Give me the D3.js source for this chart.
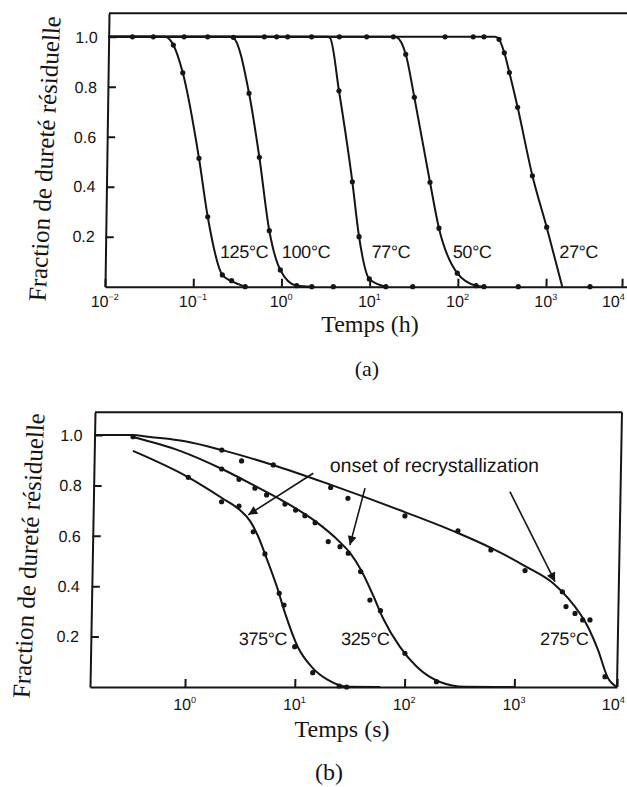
<!DOCTYPE html>
<html><head><meta charset="utf-8">
<script src="https://cdn.jsdelivr.net/npm/d3@7/dist/d3.min.js"></script>
<style>
body{margin:0;background:#fff;}
svg{display:block;background:#fff;}
</style></head><body>
<svg id="chart" width="627" height="787"></svg>
<script>
// ---------------- DATA : panel (a) – time in hours ----------------
const yTicksA = [0.2, 0.4, 0.6, 0.8, 1.0];
const xExpA = [-2, -1, 0, 1, 2, 3, 4];
const tempsA = ["125°C", "100°C", "77°C", "50°C", "27°C"];
const curveA125 = [[0.01,1],[0.0436,1],[0.0543,0.967],[0.0702,0.856],[0.1107,0.514],[0.1422,0.28],[0.213,0.047],[0.272,0.022],[0.389,0]];
const curveA100 = [[0.01,1],[0.235,1],[0.2595,0.996],[0.399,0.774],[0.535,0.518],[0.714,0.224],[0.966,0.067],[1.49,0.004],[2.2,0]];
const curveA77  = [[0.01,1],[3.0,1],[3.24,0.995],[4.17,0.784],[6.12,0.42],[7.45,0.2],[9.89,0.031],[15.3,0]];
const curveA50  = [[0.01,1],[17,1],[18.4,0.998],[23.5,0.93],[29.9,0.758],[46.5,0.418],[59.8,0.234],[98.2,0.054],[161,0.004],[200,0]];
const curveA27  = [[0.01,1],[240,1],[267,0.99],[308,0.936],[354,0.857],[445,0.718],[672,0.444],[995,0.238],[1637,0]];
const ptsA125 = [[0.0186,1],[0.0321,1],[0.0543,0.967],[0.0702,0.856],[0.1107,0.514],[0.1422,0.28],[0.213,0.047],[0.272,0.024],[0.389,0]];
const ptsA100 = [[0.0716,1],[0.1325,1],[0.2595,0.998],[0.399,0.774],[0.535,0.518],[0.714,0.224],[0.966,0.067],[1.49,0.004],[2.21,0],[3.88,0]];
const ptsA77  = [[0.582,1],[0.803,1],[1.07,1],[2.0,1],[4.17,0.784],[6.12,0.42],[7.45,0.2],[9.89,0.031],[15.3,0],[30.8,0]];
const ptsA50  = [[4.13,1],[8.42,1],[16.9,1],[23.5,0.93],[29.9,0.758],[46.5,0.418],[59.8,0.234],[98.2,0.054],[161,0.004],[198,0],[485,0]];
const ptsA27  = [[65.2,1],[136,1],[180,1],[267,0.99],[308,0.936],[354,0.857],[445,0.718],[672,0.444],[995,0.238],[3796,0]];
const labelAtA = [[0.199,0.115],[1.0,0.115],[10.4,0.115],[86.7,0.115],[1479,0.115]];

// ---------------- DATA : panel (b) – time in seconds ----------------
const yTicksB = [0.2, 0.4, 0.6, 0.8, 1.0];
const xExpB = [0, 1, 2, 3, 4];
const tempsB = ["375°C", "325°C", "275°C"];
const curveB375 = [[0.307,0.937],[0.984,0.833],[2.02,0.75],[2.96,0.702],[3.67,0.659],[4.37,0.599],[5.09,0.528],[6.63,0.397],[7.92,0.294],[10.5,0.159],[14.2,0.079],[20,0.028],[30.5,0.001],[60,0]];
const curveB325 = [[0.306,0.992],[0.823,0.937],[2.0,0.865],[4.02,0.798],[7.59,0.734],[14.3,0.659],[24.4,0.575],[30.3,0.532],[38.4,0.464],[49.8,0.365],[61.9,0.274],[89.5,0.159],[129,0.079],[210,0.02],[355,0.001],[1000,0]];
const curveB275 = [[0.1364,1],[0.3,1],[0.436,0.992],[0.91,0.975],[1.99,0.94],[5.82,0.881],[19.8,0.802],[94.3,0.694],[289,0.611],[581,0.552],[1210,0.48],[2334,0.409],[3214,0.353],[5093,0.238],[6430,0.147],[8128,0.036],[10000,0]];
const ptsB375 = [[0.99,0.832],[2.01,0.735],[2.9,0.718],[3.95,0.616],[5.09,0.528],[6.97,0.372],[7.73,0.325],[9.84,0.16],[14.5,0.057],[25.4,0.004],[29.7,0]];
const ptsB325 = [[0.306,0.993],[1.99,0.865],[2.87,0.824],[4.02,0.789],[5.15,0.762],[7.6,0.726],[9.53,0.702],[11.6,0.68],[14.4,0.652],[19.1,0.577],[24.5,0.557],[29.2,0.531],[38.1,0.458],[46.8,0.345],[58.6,0.303],[99.5,0.134],[195,0.021]];
const ptsB275 = [[1.98,0.94],[3.01,0.897],[5.86,0.881],[19.7,0.792],[28.4,0.749],[94.5,0.679],[289,0.62],[581,0.544],[1213,0.462],[2825,0.378],[3085,0.319],[3786,0.292],[4508,0.266],[5309,0.266],[7603,0.041]];
const labelAtB = [[8.35,0.167],[71.5,0.167],[5164,0.167]];
const arrowFromB = [[13.6,0.848],[40.5,0.789],[847,0.775]];
const arrowToB = [[3.53,0.683],[30.1,0.563],[2388,0.418]];
const noteB = "onset of recrystallization";
const noteAtB = [19.2, 0.853];

// ---------------- DRAWING ----------------
const W = 627;
const svg = d3.select("#chart");
const INK = "#151515";
const SANS = "'Liberation Sans', Arial, Helvetica, sans-serif";
const SERIF = "'Liberation Serif', 'Times New Roman', serif";

svg.append("defs").append("marker")
  .attr("id","ah").attr("viewBox","0 0 10 10").attr("refX",10).attr("refY",5)
  .attr("markerWidth",11).attr("markerHeight",9).attr("markerUnits","userSpaceOnUse")
  .attr("orient","auto")
  .append("path").attr("d","M0,0 L10,5 L0,10 Z").attr("fill",INK);

function expLabel(sel){
  sel.append("tspan").text("10");
  sel.append("tspan").attr("dy",-7).attr("font-size",9).text(d=>String(d).replace("-","\u2212"));
}

function panel(o){
  const y0 = o.y.range()[0];
  const g = svg.append("g")
    .attr("transform", `translate(0,${y0}) skewX(${o.skew}) translate(0,${-y0})`);
  const xl = o.x.range()[0], xr = o.x.range()[o.x.range().length-1];
  const yt = o.y.range()[1];

  const ax = g.append("g").attr("transform",`translate(0,${y0})`)
    .call(d3.axisBottom(o.x).tickValues(o.xExp.map(e=>Math.pow(10,e))).tickSizeInner(-8).tickSizeOuter(0).tickFormat(""));
  const ay = g.append("g").attr("transform",`translate(${xl},0)`)
    .call(d3.axisLeft(o.y).tickValues(o.yTicks).tickSizeInner(-8).tickSizeOuter(0).tickFormat(""));
  [ax, ay].forEach(a=>{
    a.selectAll("path,line").attr("stroke",INK).attr("stroke-width",2);
  });
  g.append("line").attr("x1",xl).attr("x2",xr).attr("y1",yt).attr("y2",yt)
    .attr("stroke",INK).attr("stroke-width",2);
  if (o.rightFrame) {
    g.append("line").attr("x1",o.x(o.rightFrame)).attr("x2",o.x(o.rightFrame)).attr("y1",yt).attr("y2",y0)
      .attr("stroke",INK).attr("stroke-width",2);
  }
  g.selectAll(".yl").data(o.yTicks).enter().append("text")
    .attr("x", xl - o.ylGap).attr("y", d=>o.y(d)).attr("dy","0.36em")
    .attr("text-anchor","end").attr("font-family",SANS).attr("font-size",16).attr("fill",INK)
    .text(d=>d3.format(".1f")(d));
  // x tick labels (the last one is kept inside the page)
  g.selectAll(".xl").data(o.xExp).enter().append("text")
    .attr("x", d=>{ const p=o.x(Math.pow(10,d)); return p+12 > W ? W-2 : p; })
    .attr("y", y0 + o.xlDrop)
    .attr("text-anchor", d=> o.x(Math.pow(10,d))+12 > W ? "end" : "middle")
    .attr("font-family",SANS).attr("font-size",16).attr("fill",INK)
    .call(expLabel);

  const line = d3.line().x(d=>o.x(d[0])).y(d=>o.y(d[1])).curve(d3.curveMonotoneX);
  o.curves.forEach(c=>{
    g.append("path").attr("d",line(c)).attr("fill","none").attr("stroke",INK)
      .attr("stroke-width",2).attr("stroke-linejoin","round");
  });
  o.points.forEach(p=>{
    g.selectAll(null).data(p).enter().append("circle")
      .attr("cx",d=>o.x(d[0])).attr("cy",d=>o.y(d[1])).attr("r",2.6).attr("fill",INK);
  });
  g.selectAll(null).data(o.temps).enter().append("text")
    .attr("x",(d,i)=>o.x(o.labelAt[i][0])).attr("y",(d,i)=>o.y(o.labelAt[i][1]))
    .attr("text-anchor",o.labelAnchor).attr("font-family",SANS).attr("font-size",18)
    .attr("letter-spacing",-0.4).attr("fill",INK).text(d=>d);
  return g;
}

// panel (a)
const xA = d3.scaleLog().domain([1e-2, 1e3, 1.4e4]).range([105, 546, 633.1]);
const yA = d3.scaleLinear().domain([0, 1.094]).range([286.7, 13.3]);
panel({x:xA, y:yA, skew:-0.84, xExp:xExpA, yTicks:yTicksA, ylGap:11, xlDrop:20,
  curves:[curveA125,curveA100,curveA77,curveA50,curveA27],
  points:[ptsA125,ptsA100,ptsA77,ptsA50,ptsA27],
  temps:tempsA, labelAt:labelAtA, labelAnchor:"start"});

// panel (b)
const xB = d3.scaleLog().domain([Math.pow(10,-0.865), 1e3, 1e4]).range([90, 514.3, 617]);
const yB = d3.scaleLinear().domain([0, 1.09]).range([687, 412.3]);
const gB = panel({x:xB, y:yB, skew:-1.04, xExp:xExpB, yTicks:yTicksB, ylGap:12, xlDrop:23,
  rightFrame:1e4,
  curves:[curveB375,curveB325,curveB275],
  points:[ptsB375,ptsB325,ptsB275],
  temps:tempsB, labelAt:labelAtB, labelAnchor:"end"});
arrowFromB.forEach((f,i)=>{
  gB.append("line").attr("x1",xB(f[0])).attr("y1",yB(f[1]))
    .attr("x2",xB(arrowToB[i][0])).attr("y2",yB(arrowToB[i][1]))
    .attr("stroke",INK).attr("stroke-width",1.6).attr("marker-end","url(#ah)");
});
gB.append("text").attr("x",xB(noteAtB[0])).attr("y",yB(noteAtB[1]))
  .attr("font-family",SANS).attr("font-size",19.5).attr("fill",INK).text(noteB);

// titles
const yTitle = "Fraction de dureté résiduelle";
svg.append("text").attr("transform","translate(53,159) rotate(-87)")
  .attr("text-anchor","middle").attr("font-family",SERIF).attr("font-size",25).attr("fill",INK).text(yTitle);
svg.append("text").attr("transform","translate(37,556) rotate(-87)")
  .attr("text-anchor","middle").attr("font-family",SERIF).attr("font-size",25).attr("fill",INK).text(yTitle);
svg.append("text").attr("x",370).attr("y",332).attr("text-anchor","middle")
  .attr("font-family",SERIF).attr("font-size",24).attr("fill",INK).text("Temps (h)");
svg.append("text").attr("x",367).attr("y",376).attr("text-anchor","middle")
  .attr("font-family",SERIF).attr("font-size",22).attr("fill",INK).text("(a)");
svg.append("text").attr("x",342).attr("y",737).attr("text-anchor","middle")
  .attr("font-family",SERIF).attr("font-size",24).attr("fill",INK).text("Temps (s)");
svg.append("text").attr("x",329).attr("y",780).attr("text-anchor","middle")
  .attr("font-family",SERIF).attr("font-size",24).attr("fill",INK).text("(b)");
</script>
</body></html>
